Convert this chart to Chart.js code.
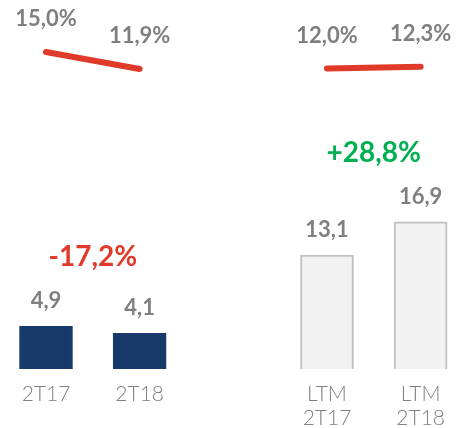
<!DOCTYPE html>
<html lang="pt">
<head>
  <meta charset="UTF-8">
  <title>Margem e receita</title>
  <script src="https://cdn.jsdelivr.net/npm/chart.js"></script>
  <style>
    body { margin: 0; background: #fff; }
    canvas { display: block; }
  </style>
</head>
<body>
  <canvas id="chart" width="458" height="428"></canvas>
  <script>
// categorias (slot vazio separa os dois grupos)
const categories = ['2T17', '2T18', '', ['LTM', '2T17'], ['LTM', '2T18']];
const values = [4.9, 4.1, null, 13.1, 16.9];
const marginQuarter = [15.0, 11.9, null, null, null];
const marginLtm = [null, null, null, 12.0, 12.3];
const changeLabels = ['-17,2%', '+28,8%'];
const changeColors = ['#e03a2a', '#00b050'];
const changePairs = [[0, 1], [3, 4]];

const barFill = ['#173a6b', '#173a6b', '#fff', '#f2f2f2', '#f2f2f2'];
const barBorder = ['#173a6b', '#173a6b', '#fff', '#c0c0c0', '#c0c0c0'];

const fmt = v => v.toFixed(1).replace('.', ',');

const labelsPlugin = {
  id: 'labels',
  afterDatasetsDraw(chart) {
    const ctx = chart.ctx;
    ctx.save();
    ctx.textAlign = 'center';
    ctx.textBaseline = 'middle';

    // valores sobre as barras
    const bars = chart.getDatasetMeta(0);
    ctx.font = 'bold 22px Lato';
    ctx.fillStyle = '#7f7f7f';
    bars.data.forEach((el, i) => {
      if (values[i] == null) return;
      ctx.fillText(fmt(values[i]), el.x, el.y - 25);
    });

    // margens sobre as linhas
    [1, 2].forEach(d => {
      const meta = chart.getDatasetMeta(d);
      const src = chart.data.datasets[d].data;
      meta.data.forEach((pt, i) => {
        if (src[i] == null) return;
        ctx.fillText(fmt(src[i]) + '%', pt.x, pt.y - 33);
      });
    });

    // variações
    ctx.font = 'bold 28px Lato';
    changePairs.forEach((p, k) => {
      const a = bars.data[p[0]], b = bars.data[p[1]];
      ctx.fillStyle = changeColors[k];
      ctx.fillText(changeLabels[k], (a.x + b.x) / 2, Math.min(a.y, b.y) - 69);
    });
    ctx.restore();
  }
};

new Chart(document.getElementById('chart'), {
  type: 'bar',
  data: {
    labels: categories,
    datasets: [{
      data: values,
      backgroundColor: barFill,
      borderColor: barBorder,
      borderWidth: 2,
      barThickness: 53,
      clip: false,
      order: 2
    }, {
      type: 'line',
      data: marginQuarter,
      yAxisID: 'y2',
      borderColor: '#e03a2a',
      borderWidth: 6,
      borderCapStyle: 'round',
      pointRadius: 0,
      clip: false,
      order: 1
    }, {
      type: 'line',
      data: marginLtm,
      yAxisID: 'y2',
      borderColor: '#e03a2a',
      borderWidth: 6,
      borderCapStyle: 'round',
      pointRadius: 0,
      clip: false,
      order: 1
    }]
  },
  options: {
    responsive: false,
    animation: false,
    layout: { padding: { left: 46, right: 35, top: 0, bottom: 0 } },
    plugins: { legend: { display: false }, tooltip: { enabled: false } },
    scales: {
      x: {
        offset: false,
        grid: { display: false, drawTicks: false },
        border: { display: false },
        ticks: {
          color: '#808080',
          font: { family: 'Lato', size: 21, weight: 300, lineHeight: 1.15 },
          padding: 13,
          maxRotation: 0,
          autoSkip: false
        },
        afterFit: s => { s.height = 59; }
      },
      y: { display: false, min: 0, max: 42.4 },
      y2: { display: false, min: -42.65, max: 24.45 }
    }
  },
  plugins: [labelsPlugin]
});
  </script>
</body>
</html>
